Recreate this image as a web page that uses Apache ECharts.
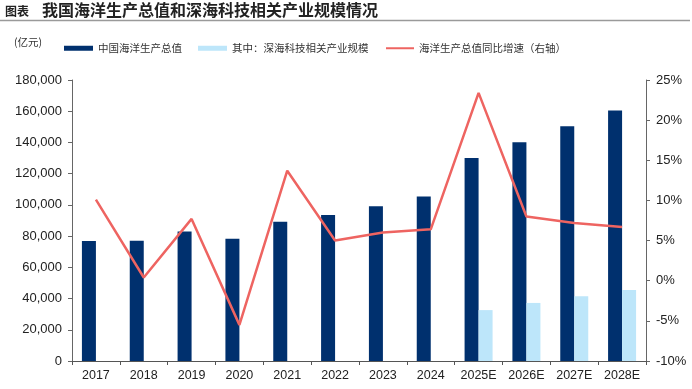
<!DOCTYPE html>
<html>
<head>
<meta charset="utf-8">
<script src="https://cdn.jsdelivr.net/npm/echarts@6/dist/echarts.min.js"></script>
<style>
html,body{margin:0;padding:0;background:#fff;}
#c{width:692px;height:389px;}
</style>
</head>
<body>
<div id="c"></div>
<script>
const categories = ['2017','2018','2019','2020','2021','2022','2023','2024','2025E','2026E','2027E','2028E'];
const oceanGDP = [76800, 77000, 83000, 78300, 89200, 93600, 99100, 105300, 130000, 140200, 150400, 160400];
const deepSeaTech = [null, null, null, null, null, null, null, null, 32600, 37200, 41500, 45500];
const growthRate = [10.1, 0.4, 7.7, -5.5, 13.7, 5.0, 6.0, 6.4, 23.4, 8.0, 7.2, 6.7];
const leftTicks = {min: 0, max: 180000, interval: 20000};
const rightTicks = {min: -10, max: 25, interval: 5};

const nameA = '中国海洋生产总值';
const nameB = '其中：深海科技相关产业规模';
const nameC = '海洋生产总值同比增速（右轴）';
const cjk = '"Noto Sans CJK SC", "Noto Sans", sans-serif';
const latin = '"Liberation Sans", Arial, sans-serif';

const chart = echarts.init(document.getElementById('c'), null, {renderer: 'canvas'});
const legendText = {fontFamily: cjk, fontSize: 10.5, color: '#333'};
chart.setOption({
  animation: false,
  backgroundColor: '#fff',
  graphic: [
    {type: 'text', left: 5, top: 5, style: {text: '图表', font: 'bold 12px ' + cjk, fill: '#222'}},
    {type: 'text', left: 42, top: 2, style: {text: '我国海洋生产总值和深海科技相关产业规模情况', font: 'bold 16px ' + cjk, fill: '#222'}},
    {type: 'line', shape: {x1: 0, y1: 20.5, x2: 690, y2: 20.5}, style: {stroke: '#9a9a9a', lineWidth: 1.5}},
    {type: 'text', left: 14, top: 37, style: {text: '(亿元)', font: '10.5px ' + cjk, fill: '#333'}}
  ],
  legend: [
    {data: [nameA], left: 64, top: 43, itemWidth: 29, itemHeight: 5, icon: 'rect', textStyle: legendText, padding: 0},
    {data: [nameB], left: 198, top: 43, itemWidth: 29, itemHeight: 5, icon: 'rect', textStyle: legendText, padding: 0},
    {data: [nameC], left: 386, top: 43, itemWidth: 28, itemHeight: 2, icon: 'rect', textStyle: legendText, padding: 0}
  ],
  grid: {left: 72, right: 46, top: 80, bottom: 28, containLabel: false},
  xAxis: {
    type: 'category',
    data: categories,
    axisLine: {lineStyle: {color: '#555', width: 1}},
    axisTick: {show: true, inside: false, length: 4, alignWithLabel: false, lineStyle: {color: '#555'}},
    axisLabel: {fontFamily: latin, fontSize: 12.5, color: '#222', margin: 8, interval: 0}
  },
  yAxis: [
    {
      type: 'value', min: leftTicks.min, max: leftTicks.max, interval: leftTicks.interval,
      axisLine: {show: true, lineStyle: {color: '#666'}},
      axisTick: {show: true, inside: false, length: 4, lineStyle: {color: '#666'}},
      splitLine: {show: false},
      axisLabel: {fontFamily: latin, fontSize: 13, color: '#222', margin: 10,
        formatter: v => v.toLocaleString('en-US')}
    },
    {
      type: 'value', position: 'right', min: rightTicks.min, max: rightTicks.max, interval: rightTicks.interval,
      axisLine: {show: true, lineStyle: {color: '#666'}},
      axisTick: {show: true, inside: false, length: 4, lineStyle: {color: '#666'}},
      splitLine: {show: false},
      axisLabel: {fontFamily: latin, fontSize: 13, color: '#222', margin: 10, formatter: '{value}%'}
    }
  ],
  series: [
    {name: nameA, type: 'bar', data: oceanGDP, barWidth: 14, barGap: '0%',
      itemStyle: {color: '#00306E'}},
    {name: nameB, type: 'bar', data: deepSeaTech, barWidth: 14, barGap: '0%',
      itemStyle: {color: '#BDE6FA'}},
    {name: nameC, type: 'line', yAxisIndex: 1, data: growthRate, symbol: 'none',
      lineStyle: {color: '#EE6461', width: 2.5}, itemStyle: {color: '#EE6461'}, z: 5}
  ]
});
</script>
</body>
</html>
